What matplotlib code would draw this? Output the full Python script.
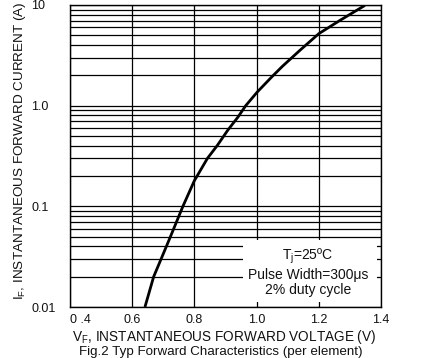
import matplotlib
matplotlib.use("Agg")
import matplotlib.pyplot as plt
from matplotlib.patches import Rectangle

plt.rcParams['font.family'] = ['Liberation Sans', 'DejaVu Sans']
plt.rcParams['mathtext.fontset'] = 'custom'
plt.rcParams['mathtext.rm'] = 'Liberation Sans'
plt.rcParams['mathtext.it'] = 'Liberation Sans:italic'

# Data
vf = [0.641, 0.669, 0.693, 0.723, 0.763, 0.800, 0.842, 0.873, 0.907,
      0.940, 0.965, 1.002, 1.048, 1.083, 1.139, 1.2, 1.268, 1.348]
i_f = [0.01, 0.02, 0.03, 0.05, 0.1, 0.18, 0.3, 0.40, 0.569,
       0.77, 1.0, 1.365, 1.92, 2.46, 3.54, 5.19, 7.03, 9.9]

x_ticks = [0.4, 0.6, 0.8, 1.0, 1.2, 1.4]
x_tick_labels = ["0 .4", "0.6", "0.8", "1.0", "1.2", "1.4"]
y_ticks = [0.01, 0.1, 1.0, 10]
y_tick_labels = ["0.01", "0.1", "1.0", "10"]

W, H = 429, 358
fig = plt.figure(figsize=(W / 100, H / 100), dpi=100)
L, R, T, B = 70, 381, 5, 307
ax = fig.add_axes([L / W, 1 - B / H, (R - L) / W, (B - T) / H])

ax.plot(vf, i_f, color='black', lw=2.0, solid_capstyle='butt',
        solid_joinstyle='round', zorder=3)
ax.set_yscale('log')
ax.set_xlim(0.4, 1.4)
ax.set_ylim(0.01, 10)

ax.set_xticks(x_ticks)
ax.set_xticklabels(x_tick_labels)
ax.set_yticks(y_ticks)
ax.set_yticklabels(y_tick_labels)
ax.yaxis.set_minor_formatter(plt.NullFormatter())

ax.tick_params(axis='both', which='both', length=0, labelsize=9, colors='#111111')
ax.tick_params(axis='x', pad=5)
ax.tick_params(axis='y', pad=28)
for lab in ax.get_yticklabels():
    lab.set_horizontalalignment('left')
ax.get_xticklabels()[0].set_horizontalalignment('left')
ax.get_xticklabels()[0].set_x(0.4)

ax.grid(True, which='major', axis='x', color='black', lw=0.9)
ax.grid(True, which='both', axis='y', color='black', lw=0.9)
for s in ax.spines.values():
    s.set_linewidth(1.0)
    s.set_color('black')

# white box covering the grid behind the conditions text
ax.add_patch(Rectangle((173 / 311, 5 / 302), (377 - 243) / 311, (302 - 240) / 302,
                       transform=ax.transAxes, facecolor='white', edgecolor='none', zorder=2))
ax.text(0.765, 0.116, "T$_\\mathregular{j}$=25ºC\nPulse Width=300μs\n2% duty cycle",
        transform=ax.transAxes, ha='center', va='center', fontsize=10,
        linespacing=1.15, color='#111111', zorder=4)

ax.set_xlabel("V$_\\mathregular{F}$, INSTANTANEOUS FORWARD VOLTAGE (V)", fontsize=9.8,
              color='#111111', va='baseline')
ax.xaxis.set_label_coords(0.495, -0.1116)
ax.set_ylabel("I$_\\mathregular{F}$, INSTANTANEOUS FORWARD CURRENT (A)", fontsize=9.7,
              color='#111111', va='baseline')
ax.yaxis.set_label_coords(-0.152, 0.518)

fig.text(221 / W, 1 - 355 / H, "Fig.2 Typ Forward Characteristics (per element)",
         ha='center', va='baseline', fontsize=9.6, color='#111111')

fig.savefig("out.png", dpi=100)
